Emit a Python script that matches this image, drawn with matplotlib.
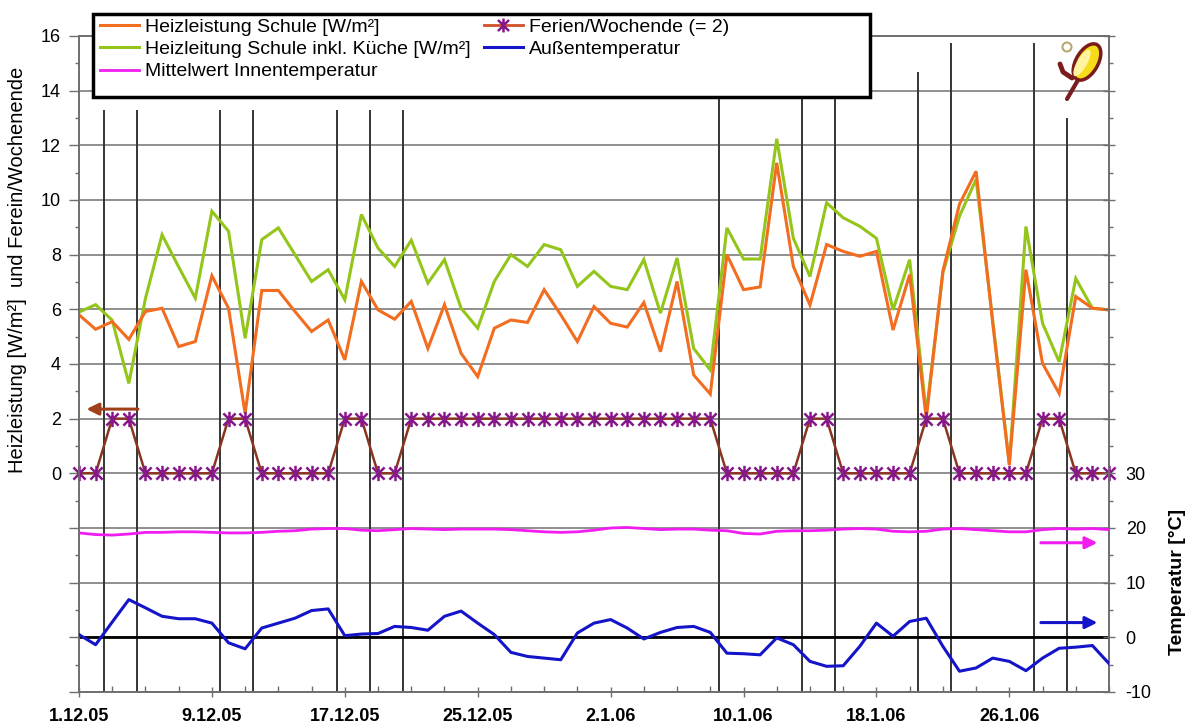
import matplotlib
matplotlib.use('Agg')
import matplotlib.pyplot as plt
import numpy as np
from matplotlib.patches import Rectangle, Ellipse, Circle
from matplotlib.path import Path
from matplotlib.ticker import FixedLocator, MultipleLocator, FuncFormatter
from matplotlib.lines import Line2D

plt.rcParams['font.family'] = ['Liberation Sans', 'DejaVu Sans']

# ---------------- data ----------------
days = np.arange(63)  # 1.12.05 ... 1.2.06
x_tick_labels = ['1.12.05', '9.12.05', '17.12.05', '25.12.05',
                 '2.1.06', '10.1.06', '18.1.06', '26.1.06']

heiz_schule = [5.80, 5.27, 5.55, 4.90, 5.92, 6.04, 4.64, 4.82, 7.23, 6.04,
               2.19, 6.69, 6.69, 5.92, 5.19, 5.61, 4.15, 7.02, 5.98, 5.64,
               6.29, 4.57, 6.17, 4.39, 3.54, 5.31, 5.61, 5.52, 6.72, 5.80,
               4.82, 6.10, 5.49, 5.35, 6.25, 4.45, 7.02, 3.60, 2.90, 8.00,
               6.72, 6.82, 11.36, 7.57, 6.16, 8.37, 8.12, 7.94, 8.12, 5.24,
               7.27, 2.00, 7.40, 9.85, 11.05, 5.50, 0.30, 7.45, 4.02, 2.92,
               6.47, 6.04, 5.98]

heiz_kueche = [5.90, 6.17, 5.60, 3.29, 6.40, 8.73, 7.55, 6.41, 9.59, 8.86,
               4.94, 8.55, 8.98, 8.00, 7.02, 7.45, 6.35, 9.47, 8.24, 7.57,
               8.53, 6.96, 7.82, 6.04, 5.31, 7.02, 8.00, 7.57, 8.37, 8.18,
               6.84, 7.39, 6.84, 6.72, 7.82, 5.86, 7.88, 4.57, 3.78, 8.98,
               7.84, 7.84, 12.24, 8.60, 7.20, 9.90, 9.35, 9.04, 8.60, 5.98,
               7.82, 2.20, 7.33, 9.41, 10.75, 5.60, 0.35, 9.03, 5.49, 4.08,
               7.13, 6.04, 5.98]

ferien = [0, 0, 2, 2, 0, 0, 0, 0, 0, 2,
          2, 0, 0, 0, 0, 0, 2, 2, 0, 0,
          2, 2, 2, 2, 2, 2, 2, 2, 2, 2,
          2, 2, 2, 2, 2, 2, 2, 2, 2, 0,
          0, 0, 0, 0, 2, 2, 0, 0, 0, 0,
          0, 2, 2, 0, 0, 0, 0, 0, 2, 2,
          0, 0, 0]

innen_temp = [19.1, 18.8, 18.7, 18.9, 19.2, 19.2, 19.3, 19.3, 19.2, 19.1,
              19.1, 19.2, 19.4, 19.5, 19.8, 19.9, 19.9, 19.6, 19.5, 19.7,
              19.9, 19.8, 19.7, 19.8, 19.8, 19.8, 19.7, 19.5, 19.3, 19.2,
              19.3, 19.6, 20.0, 20.1, 19.9, 19.7, 19.8, 19.8, 19.6, 19.5,
              19.0, 18.9, 19.4, 19.5, 19.5, 19.6, 19.8, 19.9, 19.8, 19.4,
              19.3, 19.4, 19.8, 19.9, 19.7, 19.5, 19.3, 19.3, 19.7, 19.9,
              19.8, 19.9, 19.7]

aussen_temp = [0.5, -1.35, 2.8, 6.9, 5.4, 3.85, 3.4, 3.4, 2.6, -1.0,
               -2.1, 1.7, 2.6, 3.5, 4.9, 5.2, 0.3, 0.6, 0.7, 2.0,
               1.8, 1.3, 3.85, 4.8, 2.6, 0.5, -2.75, -3.5, -3.8, -4.1,
               0.8, 2.6, 3.25, 1.7, -0.3, 0.9, 1.8, 2.0, 0.9, -2.9,
               -3.0, -3.2, -0.1, -1.35, -4.4, -5.3, -5.2, -1.65, 2.6, 0.2,
               2.9, 3.5, -1.65, -6.2, -5.6, -3.8, -4.4, -6.1, -3.8, -2.0,
               -1.8, -1.5, -4.8]

# week / holiday change days and the heights of their marker lines
wechsel_tage = [1.5, 3.5, 8.5, 10.5, 15.5, 17.5, 19.5, 38.5, 43.5, 45.5,
                50.5, 52.5, 57.5, 59.5]
wechsel_hoehe = [13.3, 13.3, 13.3, 13.3, 13.3, 13.3, 13.3, 16, 16, 16,
                 14.7, 15.75, 15.75, 13.0]

# ---------------- styling ----------------
C_OR = '#f26d1f'
C_GR = '#94c51a'
C_MA = '#f01cf0'
C_BL = '#1414c8'
C_FE = '#8a3520'
C_FE_M = '#86188a'
GRID = '#8f8f8f'
SPINE = '#6e6e6e'

W, H = 1188, 726
fig = plt.figure(figsize=(W / 100, H / 100), dpi=100)
L, R, T, B = 79, 1109, 36, 692
ax = fig.add_axes([L / W, 1 - B / H, (R - L) / W, (B - T) / H])
ax2 = ax.twinx()

ax.set_xlim(0, 62)
ax.set_ylim(-8, 16)
ax2.set_ylim(-10, 110)

grid_levels = np.arange(-8, 17, 2)
ax.yaxis.set_major_locator(FixedLocator(grid_levels))
ax.yaxis.set_minor_locator(MultipleLocator(1))
ax.yaxis.set_major_formatter(FuncFormatter(lambda v, p: '%d' % v if v >= 0 else ''))
ax.hlines(grid_levels, 0, 62, colors=GRID, lw=1.4, zorder=1.2)

ax2.yaxis.set_major_locator(FixedLocator(np.arange(-10, 111, 10)))
ax2.yaxis.set_minor_locator(MultipleLocator(5))
ax2.yaxis.set_major_formatter(FuncFormatter(lambda v, p: '%d' % v if v <= 30 else ''))

# vertical weekday/weekend separators
ax.vlines(wechsel_tage, -8, wechsel_hoehe, colors='#353535', lw=1.4, zorder=1.5)

# heating lines
ax.plot(days, heiz_schule, color=C_OR, lw=2.2, zorder=3, solid_joinstyle='miter')
ax.plot(days, heiz_kueche, color=C_GR, lw=2.2, zorder=2.9, solid_joinstyle='miter')

star = Path([(-1, -1), (1, 1), (-1, 1), (1, -1), (0, -1.25), (0, 1.25)],
            [Path.MOVETO, Path.LINETO, Path.MOVETO, Path.LINETO, Path.MOVETO, Path.LINETO])
ax.plot(days, ferien, color=C_FE, lw=1.8, marker=star, ms=11, mew=1.8,
        mec=C_FE_M, mfc='none', zorder=4, clip_on=False)

# temperatures
ax2.axhline(0, color='black', lw=2.0, zorder=1)
ax2.plot(days, innen_temp, color=C_MA, lw=2.0, zorder=3)
ax2.plot(days, aussen_temp, color=C_BL, lw=2.2, zorder=3)

# ticks
x_major = days[::8]
ax.set_xticks(x_major)
ax.set_xticklabels(x_tick_labels, fontsize=13, fontweight='bold')
ax.xaxis.set_minor_locator(MultipleLocator(2))
ax.tick_params(axis='x', which='major', direction='inout', length=7, width=1, color=SPINE, pad=8)
ax.tick_params(axis='x', which='minor', direction='in', length=4, width=1, color=SPINE)
ax.tick_params(axis='y', which='major', direction='out', length=7, width=1, color=SPINE, labelsize=13, pad=6)
ax.tick_params(axis='y', which='minor', direction='out', length=3, width=1, color=SPINE)
ax2.tick_params(axis='y', which='major', direction='inout', length=8, width=1, color=SPINE, labelsize=13, pad=8)
ax2.tick_params(axis='y', which='minor', direction='out', length=3, width=1, color=SPINE)

for a in (ax, ax2):
    for s in a.spines.values():
        s.set_color(SPINE)
        s.set_linewidth(1.2)

# arrows indicating the axis of each series
ax.annotate('', xy=(0.45, 2.35), xytext=(3.55, 2.35),
            arrowprops=dict(arrowstyle='-|>', color='#a0401a', lw=2.2, mutation_scale=18,
                            shrinkA=0, shrinkB=0), annotation_clip=False, zorder=6)
ax2.annotate('', xy=(61.3, 17.3), xytext=(57.9, 17.3),
             arrowprops=dict(arrowstyle='-|>', color=C_MA, lw=2.2, mutation_scale=18,
                             shrinkA=0, shrinkB=0), zorder=6)
ax2.annotate('', xy=(61.3, 2.7), xytext=(57.9, 2.7),
             arrowprops=dict(arrowstyle='-|>', color=C_BL, lw=2.2, mutation_scale=18,
                             shrinkA=0, shrinkB=0), zorder=6)

# axis titles
fig.text(18 / W, 1 - 270 / H, 'Heizleistung [W/m²]  und Ferein/Wochenende',
         rotation=90, ha='center', va='center', fontsize=14.5)
fig.text(1178 / W, 1 - 582 / H, 'Temperatur [°C]', rotation=90, ha='center',
         va='center', fontsize=14, fontweight='bold')

# overlay in pixel coordinates for legend box and logo
ov = fig.add_axes([0, 0, 1, 1])
ov.set_xlim(0, W)
ov.set_ylim(H, 0)
ov.axis('off')
ov.patch.set_alpha(0)

ov.add_patch(Rectangle((93, 14), 777, 83, facecolor='white', edgecolor='black', lw=2.5, zorder=1))

handles = [
    Line2D([], [], color=C_OR, lw=2.2),
    Line2D([], [], color=C_GR, lw=2.2),
    Line2D([], [], color=C_MA, lw=2.0),
    Line2D([], [], color='#d0502a', lw=2.0, marker=star, ms=10, mew=1.8, mec=C_FE_M, mfc='none'),
    Line2D([], [], color=C_BL, lw=2.2),
]
labels = ['Heizleistung Schule [W/m²]', 'Heizleitung Schule inkl. Küche [W/m²]',
          'Mittelwert Innentemperatur', 'Ferien/Wochende (= 2)', 'Außentemperatur']
leg = ov.legend(handles, labels, ncol=2, loc='upper left', bbox_to_anchor=(97, 15),
                bbox_transform=ov.transData, frameon=False, fontsize=14,
                handlelength=2.0, handletextpad=0.3, columnspacing=0.7,
                labelspacing=0.25, borderpad=0.15, borderaxespad=0)
leg.set_zorder(2)

# logo (approximation)
ov.add_patch(Ellipse((1087, 62), 22, 40, angle=30, facecolor='#f7dc1a', edgecolor='#7a1c1c', lw=2.5, zorder=3))
ov.add_patch(Ellipse((1082, 63), 10, 30, angle=30, facecolor='#fff3a0', edgecolor='none', zorder=4))
ov.add_patch(Circle((1067, 47), 4.5, facecolor='white', edgecolor='#b8a870', lw=1.5, zorder=4))
ov.plot([1078, 1067], [80, 99], color='#7a1c1c', lw=3, zorder=3, solid_capstyle='round')
ov.plot([1060, 1063, 1072], [64, 72, 78], color='#7a1c1c', lw=3.5, zorder=3, solid_capstyle='round')

fig.savefig('out.png', dpi=100)
